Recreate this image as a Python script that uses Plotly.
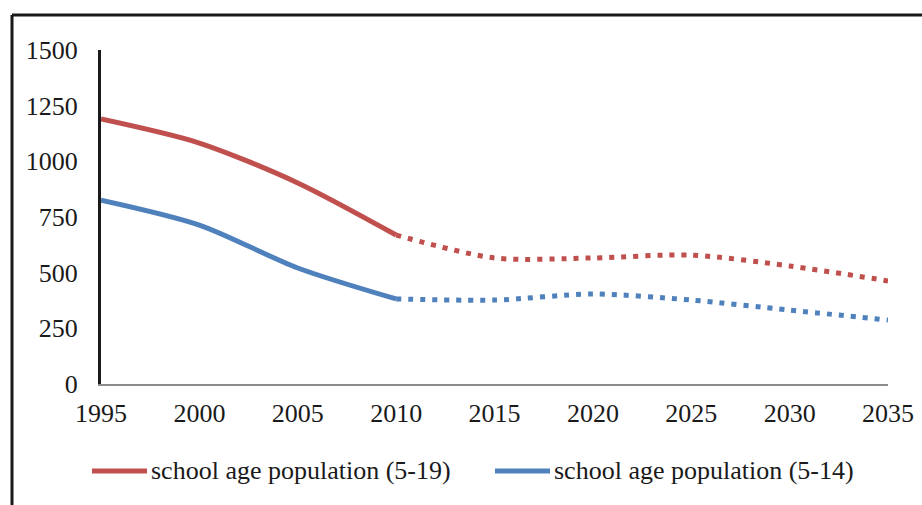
import plotly.graph_objects as go

years = [1995, 2000, 2005, 2010, 2015, 2020, 2025, 2030, 2035]
pop_5_19 = [1190, 1082, 903, 669, 566, 566, 579, 530, 463]
pop_5_14 = [826, 714, 521, 382, 377, 404, 377, 332, 287]
names = ["school age population (5-19)", "school age population (5-14)"]
colors = ["#C0504D", "#4F81BD"]
split = 3  # index of 2010: actual vs projected

fig = go.Figure()
for vals, name, col in zip([pop_5_19, pop_5_14], names, colors):
    fig.add_trace(go.Scatter(x=years[:split + 1], y=vals[:split + 1], mode="lines", name=name,
                             line=dict(color=col, width=5, shape="spline", smoothing=0.8)))
    fig.add_trace(go.Scatter(x=years[split:], y=vals[split:], mode="lines", showlegend=False,
                             line=dict(color=col, width=5, shape="spline", smoothing=0.8, dash="5px,7px")))

FAM = "Liberation Serif"
font = dict(family=FAM, size=26, color="#1a1a1a")
W, H = 787, 334  # plot area size in px
fig.update_layout(
    width=922, height=505,
    margin=dict(l=101, r=34, t=50, b=121, autoexpand=False),
    paper_bgcolor="white", plot_bgcolor="white",
    font=font,
    xaxis=dict(range=[1995, 2035], tickvals=years, ticks="", showgrid=False, zeroline=False,
               showline=True, linecolor="#8c8c8c", linewidth=2, tickfont=font, ticklabelstandoff=5),
    yaxis=dict(range=[0, 1500], tickvals=[0, 250, 500, 750, 1000, 1250, 1500], ticks="", showgrid=False,
               zeroline=False, showline=True, linecolor="#1a1a1a", linewidth=3, tickfont=font,
               ticklabelstandoff=15),
    showlegend=False,
)
# manual legend
legend_x = [-9, 394]
for lx, name, col in zip(legend_x, names, colors):
    fig.add_shape(type="line", xref="paper", yref="paper", x0=lx / W, x1=(lx + 55) / W,
                  y0=-87 / H, y1=-87 / H, line=dict(color=col, width=5))
    fig.add_annotation(xref="paper", yref="paper", x=(lx + 57) / W, y=-87 / H, text=name,
                       showarrow=False, xanchor="left", yanchor="middle", font=font)
# frame lines
fig.add_shape(type="line", xref="paper", yref="paper", x0=-89 / W, x1=821 / W, y0=1 + 35 / H, y1=1 + 35 / H,
              line=dict(color="#1a1a1a", width=3))
fig.add_shape(type="line", xref="paper", yref="paper", x0=-89 / W, x1=-89 / W, y0=1 + 35 / H, y1=-121 / H,
              line=dict(color="#1a1a1a", width=3))

fig.write_html("out.html")
